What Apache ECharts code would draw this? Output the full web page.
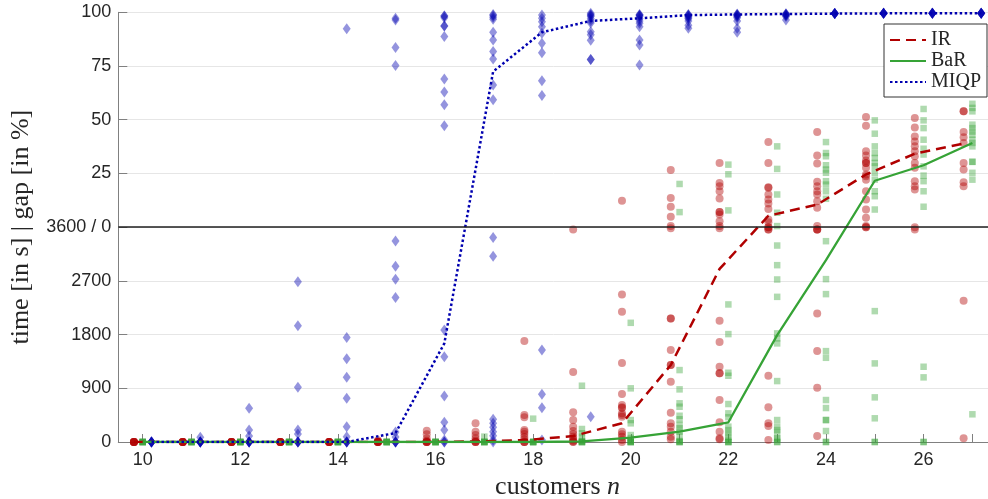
<!DOCTYPE html>
<html>
<head>
<meta charset="utf-8">
<script src="https://cdn.jsdelivr.net/npm/echarts/dist/echarts.min.js"></script>
<style>html,body{margin:0;padding:0;background:#fff;}#c{width:988px;height:499px;}</style>
</head>
<body>
<div id="c"></div>
<script>
// customers n
const ns = [10,11,12,13,14,15,16,17,18,19,20,21,22,23,24,25,26,27];
const xLabelValues = [10,12,14,16,18,20,22,24,26];

// y tick labels (bottom: time in s, top: gap in %)
const timeTicks = [0, 900, 1800, 2700];
const gapTicks = [25, 50, 75, 100];

// ---- IR: solve times [s] and remaining gaps [%] per n ----
const irTimes = [
  [0,0,0,0,0,0],
  [0,0,0,0,0,0],
  [0,0,0,0,0,0],
  [0,0,0,0,0,0],
  [0,0,0,0,0,0],
  [30,10,0,0,0,0,0],
  [190,130,60,20,0,0,0,0],
  [313,173,117,62,20,0,0,0],
  [1691,452,413,200,173,134,84,40,0,0,0],
  [3560,1172,500,368,257,184,134,90,45,20,5,0],
  [2472,2181,1322,803,620,581,570,480,452,424,173,129,89,33,0],
  [3580,2071,2071,1540,1289,1289,1010,490,313,257,173,89,45],
  [3580,2031,1674,1261,1150,1150,703,330,173,62,45],
  [3560,3560,1110,581,313,268,33],
  [3560,3560,3560,2152,1523,909,100],
  [],
  [3560],
  [2365,62]
];
const irGaps = [
  [],[],[],[],[],[],[],[],[],[],
  [12.3],
  [26.6,13.6,9.5,4.8,0.5],
  [29.9,20.6,19,16.7,13.3,7,7,5.9,2.8,0.5],
  [39.6,29.9,18.6,18.3,15.2,12.9,11,8.5,3.6,2.3,0,0],
  [44.3,33.4,29.6,21.1,19,16.7,15.2,12.1,9,0.5],
  [51.3,47.2,35.3,33.4,31,29.9,29.9,27.6,24.5,23.7,22.1,16.7,12.9,8.2,4.4,0.5,0,0],
  [50.8,46.4,42.2,39.9,37.6,35.3,33,29.9,27.6,21.4,19,17.5,0],
  [53.9,53.9,44.3,41.8,39.2,29.9,26.8,20.9,19]
];

// ---- BaR ----
const barTimes = [
  [0,0,0,0,0,0],
  [0,0,0,0,0,0],
  [0,0,0,0,0,0],
  [0,0,0,0,0,0],
  [0,0,0,0,0,0],
  [0,0,0,0,0,0],
  [0,0,0,0,0,0],
  [90,0,0,0,0,0],
  [391,0,0,0,0,0],
  [943,218,146,90,20,0,0,0,0],
  [1997,899,368,313,117,67,22,0,0,0,0],
  [1205,882,648,591,440,380,285,229,173,100,17,0,0,0],
  [2305,1808,1160,1110,636,480,416,257,200,146,89,33,0,0,0],
  [3292,2963,2723,2432,1820,1736,1652,1021,368,257,200,156,62,45,0,0],
  [3365,2729,2478,1523,1411,703,569,368,368,184,0,0],
  [2193,1317,748,397,0,0],
  [1261,1083,0,0],
  [464]
];
const barGaps = [
  [],[],[],[],[],[],[],[],[],[],[],
  [20.1,7.0],
  [29.1,24.6,7.8],
  [37.6,27.1,15.2,6.7,0.5],
  [39.6,34.5,33,28.8,26.8,25.3,21.4,19.8,16.7,13.2],
  [49.7,43.5,37.6,34.5,32.2,29.9,28.3,25.3,22.1,16.7,14.4,8.2],
  [55,49.7,46.1,40.7,36.5,33.8,28.3,24,21.4,16.7,9.5],
  [57.4,55.5,53.9,47.7,46.1,44.5,43,40.7,39.2,37.6,30.4,30.4,25.3,22.1]
];

// ---- MIQP ----
const miqpTimes = [
  [0,0,0,0,0,0],
  [80,0,0,0,0,0,0],
  [564,200,100,0,0,0,0,0],
  [2684,1947,916,200,134,0,0,0,0],
  [1753,1395,1083,731,257,90,0,0,0,0],
  [3370,2946,2729,2422,167,84,0,0,0,0],
  [1875,1428,770,330,200,33,0,0],
  [3426,3114,380,313,246,173,106,33,0],
  [1540,798,575,33],
  [424],
  [],[],[],[],[],[],[],[]
];
const miqpGaps = [
  [],[],[],[],
  [92.4],
  [97.2,96.4,83.6,75.2],
  [98.3,98.3,97.5,93.6,93.6,88.7,69,62.9,57,47.2],
  [99,98.5,97.7,96.8,90.7,87.1,81.7,78.3,66.2,59.3],
  [98.7,97.2,95.6,93.3,90.2,85.6,81.2,68.1,61.3],
  [99.5,99,98.5,98,97,96,95,91,89.5,87,78,78],
  [99,98.7,98.5,98,97,96,94.9,93.3,87.1,84.8,75.5],
  [99,98.8,98.5,98,97.5,97,96,94,92.6],
  [99.2,99,98.8,98.5,98,97.5,96,92.6,90.7],
  [99.3,99.2,99,98.8,98.5,98,96.4],
  [99.4,99.4,99.4,99.4,99.4,99.4],
  [99.5,99.5,99.5,99.5,99.5,99.5],
  [99.5,99.5,99.5,99.5,99.5,99.5],
  [99.6,99.6,99.6,99.6,99.6,99.6]
];

// ---- summary lines (time [s] where solved, otherwise gap [%]) ----
const irLineTime  = [0,0,0,0,0,0,0,10,30,100,313,1289,2900,null,null,null,null,null];
const irLineGap   = [null,null,null,null,null,null,null,null,null,null,null,null,null,5.3,10.5,24.5,34.2,38.9];
const barLineTime = [0,0,0,0,0,0,0,0,0,10,72,173,330,1791,3047,null,null,null];
const barLineGap  = [null,null,null,null,null,null,null,null,null,null,null,null,null,null,null,21.6,28.8,39.2];
const miqpLineTime = [0,0,0,0,0,150,1652,null,null,null,null,null,null,null,null,null,null,null];
const miqpLineGap  = [null,null,null,null,null,null,null,72.4,90.7,96,97.2,98.7,99,99.2,99.4,99.5,99.5,99.6];

// ---- helpers: combined axis (0-100 = 0-3600 s, 100-200 = 0-100 % gap) ----
const TLIM = 3600;
const tAx = t => t / TLIM * 100;
const gAx = g => 100 + g;
const IR_DX = -0.18, BAR_DX = 0, MIQP_DX = 0.18;

function pts(times, gaps, dx) {
  const out = [];
  ns.forEach((n, i) => {
    (times[i] || []).forEach(t => out.push([n + dx, tAx(t)]));
    (gaps[i] || []).forEach(g => out.push([n + dx, gAx(g)]));
  });
  return out;
}
function line(lt, lg, dx) {
  return ns.map((n, i) => [n + dx, lt[i] != null ? tAx(lt[i]) : gAx(lg[i])]);
}

const RED = '#b00000', GREEN = '#36a336', BLUE = '#0000b0';
const SERIF = 'Liberation Serif', SANS = 'Liberation Sans';

const chart = echarts.init(document.getElementById('c'), null, {renderer: 'canvas'});
chart.setOption({
  animation: false,
  backgroundColor: '#ffffff',
  grid: {left: 118.3, top: 12.3, width: 878.5, height: 429.7, containLabel: false, outerBoundsMode: 'none'},
  xAxis: {
    type: 'value', min: 9.5, max: 27.5,
    axisLine: {show: true, lineStyle: {color: '#808080', width: 1}},
    axisTick: {show: true, inside: true, length: 8, customValues: ns, lineStyle: {color: '#808080', width: 1}},
    axisLabel: {
      customValues: xLabelValues,
      formatter: v => String(v),
      fontFamily: SANS, fontSize: 18, color: '#262626', margin: 9
    },
    splitLine: {show: false},
    name: 'customers {i|n}', nameLocation: 'middle', nameGap: 30,
    nameTextStyle: {fontFamily: SERIF, fontSize: 26, color: '#262626',
      rich: {i: {fontFamily: SERIF, fontSize: 26, fontStyle: 'italic', color: '#262626'}}}
  },
  yAxis: {
    type: 'value', min: 0, max: 200, interval: 25,
    axisLine: {show: true, lineStyle: {color: '#808080', width: 1}},
    axisTick: {show: true, inside: true, length: 9, lineStyle: {color: '#808080', width: 1}},
    axisLabel: {
      formatter: v => {
        if (v < 100) return String(timeTicks[Math.round(v / 25)]);
        if (v === 100) return TLIM + ' / 0';
        return String(gapTicks[Math.round((v - 100) / 25) - 1]);
      },
      fontFamily: SANS, fontSize: 18, color: '#262626', margin: 7
    },
    splitLine: {show: true, lineStyle: {color: '#e6e6e6', width: 1}},
    name: 'time [in s] | gap [in %]', nameLocation: 'middle', nameGap: 84,
    nameTextStyle: {fontFamily: SERIF, fontSize: 26, color: '#262626'}
  },
  legend: {
    data: ['IR', 'BaR', 'MIQP'], orient: 'vertical', left: 884, top: 24,
    itemWidth: 36, itemHeight: 14, itemGap: 1, padding: [6, 6, 5, 5],
    borderColor: '#333333', borderWidth: 1, backgroundColor: '#ffffff',
    itemStyle: {opacity: 0},
    textStyle: {fontFamily: SERIF, fontSize: 20, lineHeight: 20, color: '#262626'},
    selectedMode: false
  },
  series: [
    {name: 'IR pts', type: 'scatter', data: pts(irTimes, irGaps, IR_DX), symbol: 'circle', symbolSize: 8,
     itemStyle: {color: RED, opacity: 0.42}, silent: true, z: 2},
    {name: 'BaR pts', type: 'scatter', data: pts(barTimes, barGaps, BAR_DX), symbol: 'rect', symbolSize: 6.5,
     itemStyle: {color: GREEN, opacity: 0.4}, silent: true, z: 2},
    {name: 'MIQP pts', type: 'scatter', data: pts(miqpTimes, miqpGaps, MIQP_DX), symbol: 'diamond', symbolSize: [8, 11],
     itemStyle: {color: BLUE, opacity: 0.42}, silent: true, z: 2},
    {name: 'IR', type: 'line', data: line(irLineTime, irLineGap, IR_DX), symbol: 'none', showSymbol: false,
     lineStyle: {color: RED, width: 2.5, type: [10, 6]}, itemStyle: {color: RED}, z: 4},
    {name: 'BaR', type: 'line', data: line(barLineTime, barLineGap, BAR_DX), symbol: 'none', showSymbol: false,
     lineStyle: {color: GREEN, width: 2.3, type: 'solid'}, itemStyle: {color: GREEN}, z: 4,
     markLine: {silent: true, symbol: 'none', label: {show: false}, animation: false,
       lineStyle: {color: '#1f1f1f', width: 1.6, type: 'solid'}, data: [{yAxis: 100}]}},
    {name: 'MIQP', type: 'line', data: line(miqpLineTime, miqpLineGap, MIQP_DX), symbol: 'none', showSymbol: false,
     lineStyle: {color: BLUE, width: 2.5, type: [2.5, 2.5]}, itemStyle: {color: BLUE}, z: 4}
  ]
});
</script>
</body>
</html>
